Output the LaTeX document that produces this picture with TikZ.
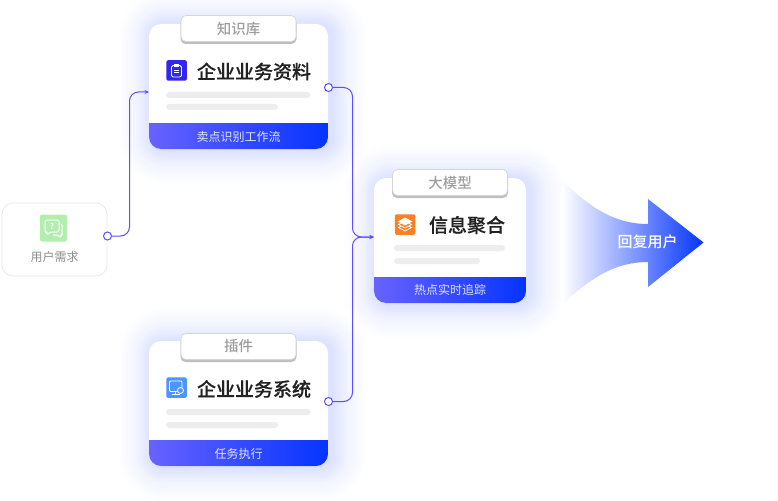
\documentclass[tikz,border=0pt]{standalone}
\usepackage{fontspec}
\setmainfont{Noto Sans CJK SC}
\newfontfamily\medfont{Noto Sans CJK SC Medium}
\newfontfamily\titlefont[FakeBold=0.3]{Noto Sans CJK SC Medium}
\usetikzlibrary{arrows.meta, positioning}
\definecolor{wireblue}{RGB}{92, 78, 255}
\definecolor{footleft}{RGB}{104, 98, 255}
\definecolor{footright}{RGB}{5, 52, 255}
\definecolor{glowblue}{RGB}{80, 110, 255}
\definecolor{skelgray}{RGB}{237, 237, 237}
\definecolor{labelgray}{RGB}{158, 158, 158}
\definecolor{titleink}{RGB}{34, 34, 34}
\definecolor{kbviolet}{RGB}{50, 38, 240}
\definecolor{plugsky}{RGB}{74, 150, 255}
\definecolor{modelorange}{RGB}{250, 128, 36}
\definecolor{usergreen}{RGB}{178, 238, 174}
\definecolor{arrowmid}{RGB}{176, 188, 255}
\tikzset{
    wire/.style={wireblue, line width=1pt, rounded corners=9pt},
    portdot/.style={circle, draw=wireblue, fill=white, line width=1pt, minimum size=8pt, inner sep=0pt},
    cardbox/.style={rectangle, fill=white, rounded corners=12pt, inner sep=0pt},
    tabbox/.style={rectangle, draw=black!16, fill=white, line width=0.7pt, rounded corners=5pt, minimum width=115pt, minimum height=26pt, inner sep=0pt},
    tabshade/.style={rectangle, fill=black!25, rounded corners=5pt, minimum width=116pt, minimum height=26pt, inner sep=0pt},
    tablabel/.style={text=labelgray, font=\medfont\fontsize{14.5}{16}\selectfont, inner sep=0pt},
    titlelabel/.style={text=titleink, font=\titlefont\fontsize{19}{21}\selectfont, inner sep=0pt},
    footlabel/.style={text=white, text opacity=0.85, font=\fontsize{12}{14}\selectfont, inner sep=0pt},
    skelbar/.style={fill=skelgray, rounded corners=3pt},
    iconbox/.style={rectangle, rounded corners=1.5pt, minimum size=20.5pt, inner sep=0pt},
}
% glow, white card and gradient footer: name, centre x, centre y, width
\newcommand{\cardbase}[4]{
    \foreach \r in {34,32,...,2} {
        \fill[glowblue, opacity=0.006, rounded corners=12pt+\r pt]
            (#2-#4/2-\r+4,#3-62.5-\r+1) rectangle (#2+#4/2+\r+4,#3+62.5+\r+1);
    }
    \foreach \r in {16,14,...,2} {
        \fill[glowblue, opacity=0.007, rounded corners=12pt+\r pt]
            (#2-#4/2-\r+3,#3-62.5-\r+1) rectangle (#2+#4/2+\r+3,#3+62.5+\r+1);
    }
    \node[cardbox, minimum width=#4 pt, minimum height=125pt] (#1) at (#2,#3) {};
    \begin{scope}
        \clip[rounded corners=12pt] (#2-#4/2,#3-62.5) rectangle (#2+#4/2,#3+62.5);
        \shade[left color=footleft, right color=footright] (#2-#4/2,#3+36.5) rectangle (#2+#4/2,#3+62.5);
    \end{scope}
}
\begin{document}
\begin{tikzpicture}[x=1pt, y=-1pt]
    \useasboundingbox (0,0) rectangle (778,500);

    % user box
    \node[rectangle, draw=black!9, fill=white, line width=0.7pt, rounded corners=11pt, minimum width=105pt, minimum height=73pt] (usercard) at (54.5,239.5) {};
    \node[iconbox, fill=usergreen, minimum size=27pt, rounded corners=2pt] (usericon) at (53.5,228) {};
    \draw[white, line width=1pt, rounded corners=1.5pt] (45,220) -- (59,220) -- (59,232) -- (50,232) -- (47,235) -- (47,232) -- (45,232) -- cycle;
    \draw[white, line width=1pt, rounded corners=1pt] (60.5,224) -- (62,224) -- (62,235) -- (61,235) -- (61,237.5) -- (57.5,235) -- (53,235);
    \node[white, font=\bfseries\fontsize{8}{8}\selectfont, inner sep=0pt] (usermark) at (52,226) {?};
    \node[text=labelgray!90!black, font=\fontsize{12}{14}\selectfont, inner sep=0pt] (userlabel) at (54.5,257) {用户需求};

    % knowledge card
    \cardbase{kbcard}{238.5}{86.5}{179}
    \node[tabshade] (kbshade) at (238.5,31) {};
    \node[tabbox] (kbtab) at (238.5,28.5) {};
    \node[tablabel] (kblabel) at (238.5,29) {知识库};
    \node[iconbox, fill=kbviolet] (kbicon) at (176.5,70.5) {};
    \draw[white, line width=0.9pt, rounded corners=1.5pt] (171.5,65.5) rectangle (181.5,77);
    \draw[white, fill=white, line width=0.5pt] (174.3,64) rectangle (178.7,66.5);
    \draw[white, line width=0.7pt] (174,70) -- (179,70) (174,72.5) -- (179,72.5);
    \node[titlelabel] (kbtitle) at (254,71.5) {企业业务资料};
    \fill[skelbar] (166,92) rectangle (310.5,98);
    \fill[skelbar] (166,104) rectangle (278,110);
    \node[footlabel] (kbfoot) at (238.5,136.5) {卖点识别工作流};

    % plugin card
    \cardbase{plugcard}{238.5}{403.5}{179}
    \node[tabshade] (plugshade) at (238.5,349) {};
    \node[tabbox] (plugtab) at (238.5,346.5) {};
    \node[tablabel] (pluglabel) at (238.5,346.5) {插件};
    \node[iconbox, fill=plugsky] (plugicon) at (176.5,387.5) {};
    \draw[white, line width=0.8pt, rounded corners=1pt] (169.5,381) rectangle (182,391.5);
    \draw[white, line width=0.8pt] (175.5,391.5) -- (175.5,394.5) (171.5,394.5) -- (179.5,394.5);
    \draw[white, fill=plugsky, line width=0.8pt] (180.5,390.5) circle (3pt);
    \node[titlelabel] (plugtitle) at (254,389) {企业业务系统};
    \fill[skelbar] (166,409) rectangle (310.5,415);
    \fill[skelbar] (166,422) rectangle (278,428);
    \node[footlabel] (plugfoot) at (238.5,453.5) {任务执行};

    % model card
    \cardbase{modelcard}{450}{240.5}{152}
    \node[tabshade] (modelshade) at (450,185) {};
    \node[tabbox] (modeltab) at (450,182.5) {};
    \node[tablabel] (modellabel) at (450,183) {大模型};
    \node[iconbox, fill=modelorange] (modelicon) at (405,224.5) {};
    \draw[white, line width=0.8pt, fill=modelorange] (398.5,227.5) -- (405,224) -- (411.5,227.5) -- (405,231) -- cycle;
    \draw[white, line width=0.8pt, fill=modelorange] (398.5,224.5) -- (405,221) -- (411.5,224.5) -- (405,228) -- cycle;
    \draw[white, line width=0.8pt, fill=white] (398.5,221.5) -- (405,218) -- (411.5,221.5) -- (405,225) -- cycle;
    \node[titlelabel] (modeltitle) at (467,225) {信息聚合};
    \fill[skelbar] (394,245) rectangle (505,251);
    \fill[skelbar] (394,258) rectangle (480,264);
    \node[footlabel] (modelfoot) at (450,290) {热点实时追踪};

    % connectors
    \node[portdot] (userdot) at (107.5,236) {};
    \node[portdot] (kbdot) at (328.5,87.5) {};
    \node[portdot] (plugdot) at (328.5,401.5) {};
    \coordinate (kbin) at (149,92);
    \coordinate (modelin) at (374,237);
    \coordinate (leftbus) at (129.5,160);
    \coordinate (rightbus) at (352.5,240);
    \draw[wire, -{Stealth[length=4.5pt,width=4pt]}] (userdot) -| (leftbus) |- (kbin);
    \draw[wire, -{Stealth[length=4.5pt,width=4pt]}] (kbdot) -| (rightbus |- modelin) -- (modelin);
    \draw[wire, -{Stealth[length=4.5pt,width=4pt]}] (plugdot) -| (rightbus |- modelin) -- (modelin);

    % reply arrow
    \shade[left color=white, middle color=arrowmid, right color=footright, draw=none]
        (562,180) .. controls (590,208) and (615,224) .. (648,224) -- (648,199) -- (703.5,242.5)
        -- (648,287) -- (648,262) .. controls (615,262) and (590,278) .. (562,305) -- cycle;
    \node[text=white, font=\medfont\fontsize{15}{17}\selectfont, inner sep=0pt] (replylabel) at (647.5,242) {回复用户};
\end{tikzpicture}
\end{document}
